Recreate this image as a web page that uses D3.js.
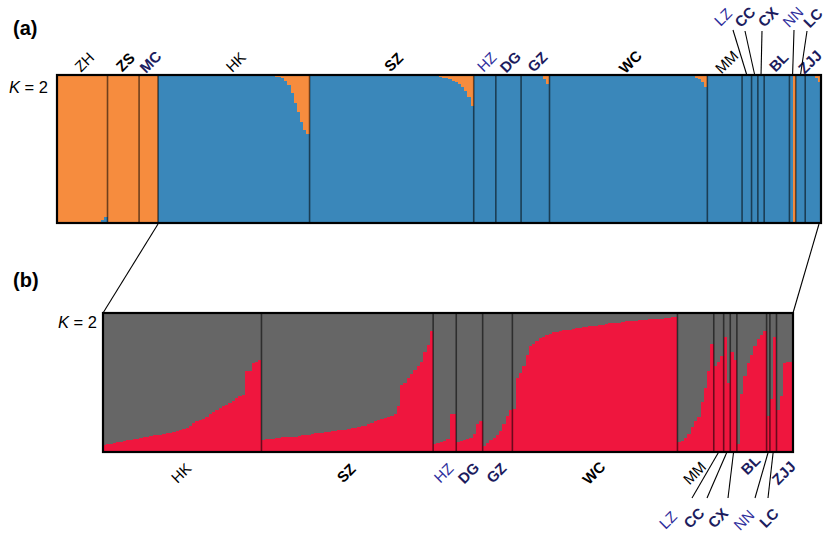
<!DOCTYPE html>
<html>
<head>
<meta charset="utf-8">
<script src="https://cdn.jsdelivr.net/npm/d3@7/dist/d3.min.js"></script>
<style>
body { margin: 0; background: #fff; }
text { font-family: Arial, "Liberation Sans", sans-serif; }
</style>
</head>
<body>
<div id="chart"></div>
<script>
// (a) all samples, K = 2 : orange membership per individual (rest is blue)
var popsA = ["ZH","ZS","MC","HK","SZ","HZ","DG","GZ","WC","MM","LZ","CC","CX","BL","NN","LC","ZJJ"];
var orangeA = [
  [1,1,1,1,1,1,1,1,1,1,1,0.99,0.99,0.99,0.98,0.96],
  [1,1,1,1,1,1,0.99,0.99,0.99,0.99],
  [1,1,1,1,1,1],
  [0,0,0,0,0,0,0,0,0,0,0,0,0,0,0,0,0,0,0,0,0,0,0,0,0,0,0,0,0,0,0,
   0.005,0.005,0.01,0.01,0.01,0.01,0.015,0.015,0.02,0.04,0.07,0.12,0.19,0.25,0.32,0.37,0.40],
  [0,0,0,0,0,0,0,0,0,0,0,0,0,0,0,0,0,0,0,0,0,0,0,0,0,0,0,0,0,0,0,0,0,0,0,0,
   0.005,0.005,0.01,0.01,0.01,0.015,0.02,0.02,0.03,0.04,0.05,0.06,0.08,0.11,0.15,0.21],
  [0,0,0,0,0,0,0],
  [0,0,0,0.01,0.01,0.01,0,0],
  [0,0,0,0,0,0,0.01,0.03,0.06],
  [0,0,0,0,0,0,0,0,0,0,0,0,0,0,0,0,0,0,0,0,0,0,0,0,0,0,0,0,0,0,0,0,0,0,0,0,0,0,0,0,0,0,0,0,
   0.005,0.01,0.02,0.03,0.05,0.08],
  [0,0,0,0,0,0,0,0,0,0.005,0.01],
  [0,0,0],
  [0,0],
  [0,0],
  [0,0,0,0.01,0,0,0.01,0],
  [0,1],
  [0,0,0],
  [0,0,0,0.02,0.05]
];

// (b) subset HK..ZJJ, K = 2 : red membership per individual (rest is grey)
var popsB = ["HK","SZ","HZ","DG","GZ","WC","MM","LZ","CC","CX","BL","NN","LC","ZJJ"];
var redB = [
  [0.05,0.055,0.06,0.065,0.07,0.075,0.08,0.085,0.085,0.09,0.095,0.10,0.105,0.11,0.115,0.12,
   0.12,0.125,0.13,0.135,0.14,0.145,0.15,0.16,0.165,0.17,0.19,0.21,0.22,0.23,0.24,0.25,
   0.27,0.29,0.30,0.32,0.33,0.34,0.35,0.37,0.39,0.40,0.41,0.58,0.58,0.64,0.65,0.66],
  [0.085,0.09,0.09,0.095,0.10,0.10,0.105,0.105,0.11,0.11,0.11,0.115,0.12,0.12,0.125,0.13,
   0.135,0.14,0.14,0.145,0.145,0.15,0.15,0.155,0.16,0.16,0.165,0.17,0.175,0.18,0.185,0.19,
   0.20,0.21,0.22,0.23,0.235,0.245,0.25,0.26,0.27,0.33,0.48,0.50,0.53,0.56,0.59,0.62,
   0.65,0.72,0.77,0.87],
  [0.06,0.065,0.07,0.08,0.09,0.27,0.27],
  [0.07,0.08,0.085,0.09,0.10,0.13,0.20,0.22],
  [0.04,0.065,0.085,0.10,0.12,0.15,0.20,0.26,0.30],
  [0.31,0.53,0.57,0.62,0.70,0.76,0.78,0.80,0.82,0.83,0.84,0.85,0.86,0.865,0.87,0.875,
   0.88,0.88,0.885,0.89,0.895,0.90,0.90,0.905,0.91,0.91,0.915,0.915,0.92,0.925,0.925,0.93,
   0.93,0.935,0.94,0.94,0.945,0.945,0.95,0.95,0.95,0.955,0.955,0.96,0.96,0.96,0.965,0.965,
   0.97,0.97],
  [0.07,0.08,0.10,0.13,0.18,0.22,0.25,0.36,0.46,0.58,0.78],
  [0.62,0.65,0.69],
  [0.83,0.50],
  [0.72,0.66],
  [0.06,0.42,0.55,0.64,0.70,0.76,0.81,0.84,0.87],
  [0.26],
  [0.38,0.83],
  [0.30,0.40,0.64,0.65,0.65]
];

var calloutPops = ["LZ","CC","CX","NN","LC"];

// label looks
var boldLabels = ["ZS","MC","SZ","DG","GZ","WC","CC","CX","BL","LC","ZJJ"];
var blueLabels = ["HZ","LZ","NN"];
var navyLabels = ["MC","DG","GZ","CC","CX","BL","LC","ZJJ"];

var width = 828, height = 538;

var svg = d3.select("#chart").append("svg")
  .attr("width", width)
  .attr("height", height);

var boxA = {left: 57, right: 821, top: 75, bottom: 223};
var boxB = {left: 103, right: 793, top: 313, bottom: 452};

function labColor(p) {
  if (blueLabels.indexOf(p) >= 0) return "#2e2e9c";
  if (navyLabels.indexOf(p) >= 0) return "#1c1c5e";
  return "#000";
}

// population name, turned -45 degrees round its centre (x, y)
function popLabel(g, p, x, y) {
  g.append("text")
    .attr("transform", "translate(" + x + "," + y + ") rotate(-45)")
    .attr("text-anchor", "middle")
    .attr("dy", "0.35em")
    .style("font-size", "15px")
    .style("font-weight", boldLabels.indexOf(p) >= 0 ? "bold" : "normal")
    .style("fill", labColor(p))
    .text(p);
}

// draws one structure panel, returns population centers
function drawPanel(pops, vals, box, baseCol, overCol, fromTop) {
  var inds = [];
  var bounds = [];
  var n = 0;
  pops.forEach(function(p, k) {
    var start = n;
    vals[k].forEach(function(v) {
      inds.push({pop: p, i: n, v: v});
      n++;
    });
    bounds.push({pop: p, start: start, end: n});
  });

  var x = d3.scaleLinear().domain([0, n]).range([box.left, box.right]);
  var y = d3.scaleLinear().domain([0, 1]).range([box.bottom, box.top]);

  var g = svg.append("g");

  g.append("rect")
    .attr("x", x(0))
    .attr("width", x(n) - x(0))
    .attr("y", y(1))
    .attr("height", y(0) - y(1))
    .style("fill", baseCol);

  g.selectAll("rect.over")
    .data(inds.filter(function(d) { return d.v > 0; }))
    .enter()
    .append("rect")
    .attr("class", "over")
    .attr("shape-rendering", "crispEdges")
    .attr("x", function(d) { return Math.round(x(d.i)); })
    .attr("width", function(d) { return Math.round(x(d.i + 1)) - Math.round(x(d.i)); })
    .attr("y", function(d) { return fromTop ? y(1) : y(d.v); })
    .attr("height", function(d) { return fromTop ? y(1 - d.v) - y(1) : y(0) - y(d.v); })
    .style("fill", overCol);

  // population separators
  g.selectAll("line.sep")
    .data(bounds.slice(1))
    .enter()
    .append("line")
    .attr("x1", function(d) { return x(d.start); })
    .attr("x2", function(d) { return x(d.start); })
    .attr("y1", y(1))
    .attr("y2", y(0))
    .style("stroke", "#000")
    .style("stroke-opacity", 0.55)
    .style("stroke-width", 1.6);

  g.append("rect")
    .attr("x", box.left)
    .attr("y", box.top)
    .attr("width", box.right - box.left)
    .attr("height", box.bottom - box.top)
    .style("fill", "none")
    .style("stroke", "#000")
    .style("stroke-width", 2.2);

  var centers = {};
  bounds.forEach(function(b) { centers[b.pop] = x((b.start + b.end) / 2); });
  return centers;
}

var cA = drawPanel(popsA, orangeA, boxA, "#3a87ba", "#f68c3e", true);
var cB = drawPanel(popsB, redB, boxB, "#666666", "#ef163e", false);

var lab = svg.append("g");

// (a) labels above
popsA.forEach(function(p) {
  if (calloutPops.indexOf(p) >= 0) return;
  var xx = p === "ZJJ" ? 810 : cA[p] + 2;
  popLabel(lab, p, xx, 62);
});
var calloutA = {
  LZ: {lx: 723, ly: 17, ex: 733, ey: 30},
  CC: {lx: 745, ly: 17, ex: 745, ey: 31},
  CX: {lx: 768, ly: 17, ex: 762, ey: 31},
  NN: {lx: 793, ly: 17, ex: 794, ey: 30},
  LC: {lx: 813, ly: 18, ex: 807, ey: 31}
};
calloutPops.forEach(function(p) {
  var c = calloutA[p];
  lab.append("line")
    .attr("x1", c.ex).attr("y1", c.ey)
    .attr("x2", cA[p]).attr("y2", boxA.top)
    .style("stroke", "#000").style("stroke-width", 1.1);
  popLabel(lab, p, c.lx, c.ly);
});

// (b) labels below
popsB.forEach(function(p) {
  if (calloutPops.indexOf(p) >= 0) return;
  var yy = p === "BL" ? 465 : 473;
  popLabel(lab, p, cB[p] - 1, yy);
});
var calloutB = {
  LZ: {lx: 668, ly: 520, ex: 692, ey: 498},
  CC: {lx: 694, ly: 518, ex: 707, ey: 498},
  CX: {lx: 718, ly: 518, ex: 728, ey: 498},
  NN: {lx: 744, ly: 520, ex: 755, ey: 498},
  LC: {lx: 769, ly: 518, ex: 768, ey: 498}
};
calloutPops.forEach(function(p) {
  var c = calloutB[p];
  lab.append("line")
    .attr("x1", cB[p]).attr("y1", boxB.bottom)
    .attr("x2", c.ex).attr("y2", c.ey)
    .style("stroke", "#000").style("stroke-width", 1.1);
  popLabel(lab, p, c.lx, c.ly);
});

// zoom lines linking (a) to (b)
var firstB = popsA.indexOf(popsB[0]);
var nBefore = 0;
for (var k = 0; k < firstB; k++) nBefore += orangeA[k].length;
var nA = d3.sum(orangeA, function(a) { return a.length; });
var xA = d3.scaleLinear().domain([0, nA]).range([boxA.left, boxA.right]);
lab.append("line")
  .attr("x1", xA(nBefore)).attr("y1", boxA.bottom + 1)
  .attr("x2", boxB.left).attr("y2", boxB.top)
  .style("stroke", "#000").style("stroke-width", 1.1);
lab.append("line")
  .attr("x1", xA(nA) - 2).attr("y1", boxA.bottom + 1)
  .attr("x2", boxB.right).attr("y2", boxB.top)
  .style("stroke", "#000").style("stroke-width", 1.1);

// panel tags and K
lab.append("text").attr("x", 13).attr("y", 35)
  .style("font-size", "20px").style("font-weight", "bold").text("(a)");
lab.append("text").attr("x", 13).attr("y", 287)
  .style("font-size", "20px").style("font-weight", "bold").text("(b)");

function kLabel(xr, yb) {
  var t = lab.append("text").attr("x", xr).attr("y", yb)
    .attr("text-anchor", "end").style("font-size", "16.5px");
  t.append("tspan").style("font-style", "italic").text("K");
  t.append("tspan").text(" = 2");
}
kLabel(48, 93);
kLabel(97, 328);
</script>
</body>
</html>
